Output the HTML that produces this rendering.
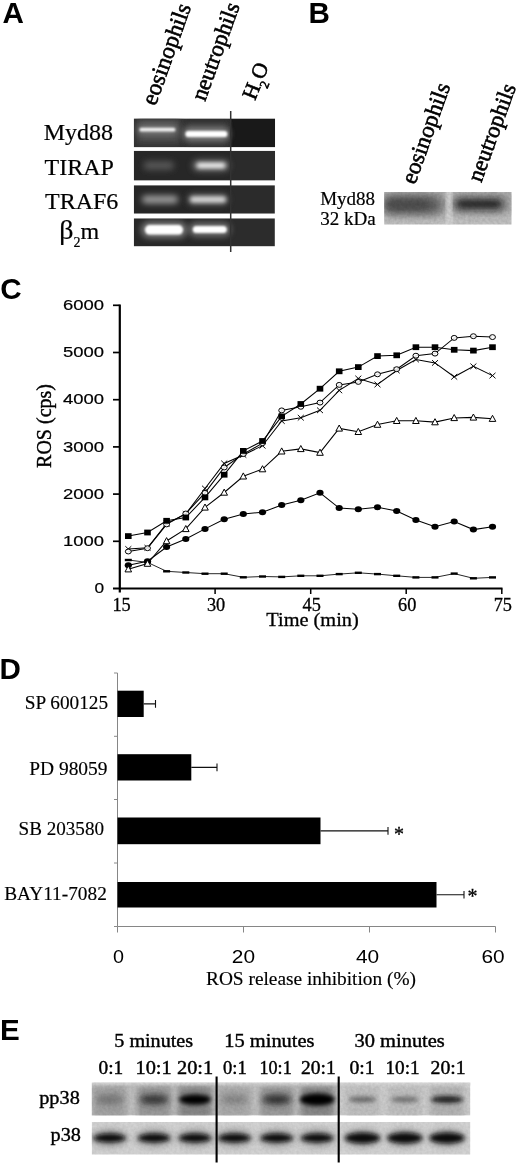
<!DOCTYPE html>
<html><head><meta charset="utf-8"><title>Figure</title>
<style>
html,body{margin:0;padding:0;background:#fff;}
body{width:520px;height:1167px;overflow:hidden;font-family:"Liberation Sans",sans-serif;}
svg{display:block;filter:grayscale(1);}
text{fill:#000;}
</style></head><body>
<svg width="520" height="1167" viewBox="0 0 520 1167">
<defs>
<filter id="b1" x="-30%" y="-100%" width="160%" height="300%"><feGaussianBlur stdDeviation="1.2"/></filter>
<filter id="b2" x="-30%" y="-100%" width="160%" height="300%"><feGaussianBlur stdDeviation="2"/></filter>
<filter id="b3" x="-30%" y="-100%" width="160%" height="300%"><feGaussianBlur stdDeviation="3"/></filter>
<filter id="b5" x="-30%" y="-100%" width="160%" height="300%"><feGaussianBlur stdDeviation="5"/></filter>
<clipPath id="cA1"><rect x="133.8" y="118.4" width="141.3" height="28.9"/></clipPath>
<clipPath id="cA2"><rect x="133.8" y="150.7" width="141.3" height="29.9"/></clipPath>
<clipPath id="cA3"><rect x="133.8" y="185.2" width="141" height="28.5"/></clipPath>
<clipPath id="cA4"><rect x="133.8" y="218.3" width="141" height="28.1"/></clipPath>
<clipPath id="cB"><rect x="384.2" y="192" width="127.3" height="32.5"/></clipPath>
<filter id="noise" x="0" y="0" width="100%" height="100%"><feTurbulence type="fractalNoise" baseFrequency="0.35" numOctaves="2" seed="3" result="n"/><feColorMatrix type="matrix" values="0 0 0 0 0  0 0 0 0 0  0 0 0 0 0  1.6 0 0 0 -0.35"/></filter>
<clipPath id="cE1"><rect x="91.7" y="1082.5" width="378.7" height="33"/></clipPath>
<clipPath id="cE2"><rect x="91.7" y="1122" width="378.7" height="32.5"/></clipPath>
</defs>
<rect width="520" height="1167" fill="#fff"/>

<text x="2.6" y="22.5" font-family="Liberation Sans, sans-serif" font-weight="bold" font-size="29.6">A</text>
<text x="308.6" y="22.5" font-family="Liberation Sans, sans-serif" font-weight="bold" font-size="29.6">B</text>
<text x="0.3" y="298.5" font-family="Liberation Sans, sans-serif" font-weight="bold" font-size="29.6">C</text>
<text x="-0.5" y="679" font-family="Liberation Sans, sans-serif" font-weight="bold" font-size="29.6">D</text>
<text x="0" y="1039.8" font-family="Liberation Sans, sans-serif" font-weight="bold" font-size="29.6">E</text>
<g id="panelA">
<text transform="translate(155.5,106.6) rotate(-70.3)" font-family="Liberation Serif, serif" font-size="23.3" stroke="#000" stroke-width="0.6">eosinophils</text>
<text transform="translate(204.9,102.1) rotate(-70)" font-family="Liberation Serif, serif" font-size="22.8" stroke="#000" stroke-width="0.6">neutrophils</text>
<text transform="translate(255,101) rotate(-68)" font-family="Liberation Serif, serif" font-size="21.5" stroke="#000" stroke-width="0.6">H<tspan font-size="13" dy="7">2</tspan><tspan dy="-7">O</tspan></text>
<text x="43.7" y="139.6" font-family="Liberation Serif, serif" font-size="24" text-anchor="start" stroke="#000" stroke-width="0.2">Myd88</text>
<text x="44.6" y="174.7" font-family="Liberation Serif, serif" font-size="24" text-anchor="start" stroke="#000" stroke-width="0.2">TIRAP</text>
<text x="45.0" y="209.4" font-family="Liberation Serif, serif" font-size="24" text-anchor="start" stroke="#000" stroke-width="0.2">TRAF6</text>
<text x="59.3" y="239.3" font-family="Liberation Serif, serif" font-size="24" stroke="#000" stroke-width="0.2"><tspan font-size="28">β</tspan><tspan font-size="14" dy="8">2</tspan><tspan dy="-8">m</tspan></text>
<g clip-path="url(#cA1)">
<rect x="133.7" y="118.4" width="97" height="29" fill="#2e2e2e"/>
<rect x="230.7" y="118.4" width="44.5" height="29" fill="#191919"/>
<rect x="137" y="118" width="44" height="26" fill="#4a4a4a" filter="url(#b3)"/>
<rect x="186" y="122" width="42" height="24" fill="#3c3c3c" filter="url(#b3)"/>
<rect x="136.9" y="124.4" width="41" height="11" rx="5.5" fill="#808080" opacity="0.8" filter="url(#b3)"/>
<rect x="182.9" y="127.5" width="47" height="13" rx="6.5" fill="#909090" opacity="0.85" filter="url(#b3)"/>
<rect x="139.4" y="127.8" width="36" height="3.8" rx="1.9" fill="#f0f0f0" opacity="1" filter="url(#b1)"/>
<rect x="185.4" y="130.9" width="42" height="6.2" rx="3.1" fill="#ffffff" opacity="1" filter="url(#b1)"/>
</g>
<g clip-path="url(#cA2)">
<rect x="133.7" y="150.7" width="97" height="30" fill="#272727"/>
<rect x="230.7" y="150.7" width="44.5" height="30" fill="#2b2b2b"/>
<rect x="143.8" y="161.4" width="30" height="8" rx="4.0" fill="#5a5a5a" opacity="1" filter="url(#b3)"/>
<rect x="192.0" y="159.6" width="38" height="12" rx="6.0" fill="#707070" opacity="0.85" filter="url(#b3)"/>
<rect x="196.5" y="162.8" width="29" height="5.5" rx="2.8" fill="#f4f4f4" opacity="1" filter="url(#b2)"/>
</g>
<g clip-path="url(#cA3)">
<rect x="133.7" y="185.2" width="97" height="28.5" fill="#262626"/>
<rect x="230.7" y="185.2" width="44.5" height="28.5" fill="#2b2b2b"/>
<rect x="142.0" y="195.8" width="36" height="7.5" rx="3.8" fill="#a4a4a4" opacity="1" filter="url(#b3)"/>
<rect x="187.0" y="193.6" width="42" height="12" rx="6.0" fill="#606060" opacity="0.85" filter="url(#b3)"/>
<rect x="190.0" y="196.6" width="36" height="6" rx="3.0" fill="#dedede" opacity="1" filter="url(#b2)"/>
</g>
<g clip-path="url(#cA4)">
<rect x="133.7" y="218.3" width="97" height="28.1" fill="#282828"/>
<rect x="230.7" y="218.3" width="44.5" height="28.1" fill="#2c2c2c"/>
<rect x="141.0" y="221.8" width="46" height="16" rx="8.0" fill="#909090" opacity="0.85" filter="url(#b3)"/>
<rect x="188.8" y="222.5" width="42" height="14" rx="7.0" fill="#808080" opacity="0.85" filter="url(#b3)"/>
<rect x="145.0" y="225.1" width="38" height="9.5" rx="4.8" fill="#ffffff" opacity="1" filter="url(#b1)"/>
<rect x="192.8" y="225.9" width="34" height="7.2" rx="3.6" fill="#ffffff" opacity="1" filter="url(#b1)"/>
</g>
<line x1="230.7" y1="111" x2="230.7" y2="252" stroke="#333" stroke-width="1.5"/>
</g>
<g id="panelB">
<text transform="translate(415,185.2) rotate(-70.3)" font-family="Liberation Serif, serif" font-size="23.1" stroke="#000" stroke-width="0.6">eosinophils</text>
<text transform="translate(481.2,183.2) rotate(-70)" font-family="Liberation Serif, serif" font-size="22.8" stroke="#000" stroke-width="0.6">neutrophils</text>
<text x="320.2" y="204.8" font-family="Liberation Serif, serif" font-size="19" text-anchor="start" stroke="#000" stroke-width="0.2">Myd88</text>
<text x="320.2" y="225.2" font-family="Liberation Serif, serif" font-size="19" text-anchor="start" stroke="#000" stroke-width="0.2">32 kDa</text>
<g clip-path="url(#cB)">
<rect x="384" y="191.5" width="128" height="33.5" fill="#c4c4c4"/>
<rect x="384" y="191.5" width="62" height="24" fill="#a4a4a4" filter="url(#b3)"/>
<rect x="453" y="191.5" width="59" height="22" fill="#a8a8a8" filter="url(#b3)"/>
<rect x="382.0" y="196.0" width="60" height="18" rx="9.0" fill="#5c5c5c" opacity="0.95" filter="url(#b5)"/>
<rect x="387.0" y="199.5" width="42" height="10" rx="5.0" fill="#484848" opacity="0.85" filter="url(#b3)"/>
<rect x="452.0" y="197.5" width="54" height="14" rx="7.0" fill="#6a6a6a" opacity="0.95" filter="url(#b5)"/>
<rect x="457.0" y="200.2" width="44" height="7.5" rx="3.8" fill="#1e1e1e" opacity="0.95" filter="url(#b3)"/>
<rect x="446.5" y="190" width="5" height="36" fill="#e2e2e2" opacity="0.85" filter="url(#b2)"/>
<rect x="384" y="191.5" width="128" height="33.5" fill="#000" opacity="0.10" filter="url(#noise)"/>
</g>
</g>
<g id="panelC">
<polyline points="128.3,560.0 147.5,562.4 166.6,571.3 185.8,572.5 205.0,573.7 224.2,573.7 243.3,577.3 262.5,576.5 281.7,576.9 300.8,575.8 320.0,575.8 339.2,574.1 358.3,572.8 377.5,574.1 396.7,575.8 415.9,577.4 435.0,577.4 454.2,573.6 473.4,578.3 492.5,577.4" fill="none" stroke="#000" stroke-width="0.85"/>
<polyline points="128.3,565.2 147.5,561.2 166.6,547.0 185.8,539.0 205.0,528.9 224.2,519.2 243.3,513.9 262.5,512.3 281.7,505.0 300.8,500.3 320.0,492.8 339.2,508.1 358.3,509.3 377.5,507.2 396.7,511.0 415.9,519.9 435.0,526.7 454.2,521.6 473.4,529.6 492.5,526.7" fill="none" stroke="#000" stroke-width="1.05"/>
<polyline points="128.3,569.2 147.5,563.6 166.6,541.0 185.8,528.9 205.0,507.4 224.2,492.5 243.3,476.3 262.5,469.1 281.7,451.3 300.8,448.9 320.0,452.6 339.2,428.4 358.3,431.8 377.5,424.6 396.7,420.8 415.9,420.8 435.0,422.1 454.2,417.9 473.4,417.4 492.5,418.7" fill="none" stroke="#000" stroke-width="1.05"/>
<polyline points="128.3,549.0 147.5,547.8 166.6,523.6 185.8,513.9 205.0,488.5 224.2,463.4 243.3,454.9 262.5,445.7 281.7,421.0 300.8,417.7 320.0,410.3 339.2,390.4 358.3,378.5 377.5,384.5 396.7,370.5 415.9,359.5 435.0,362.9 454.2,376.8 473.4,366.3 492.5,375.6" fill="none" stroke="#000" stroke-width="1.05"/>
<polyline points="128.3,551.5 147.5,548.2 166.6,524.4 185.8,513.5 205.0,492.9 224.2,467.5 243.3,454.1 262.5,443.2 281.7,410.4 300.8,406.8 320.0,402.6 339.2,384.9 358.3,381.9 377.5,374.3 396.7,369.2 415.9,355.7 435.0,353.6 454.2,337.9 473.4,336.2 492.5,337.1" fill="none" stroke="#000" stroke-width="1.05"/>
<polyline points="128.3,536.1 147.5,532.5 166.6,520.8 185.8,517.5 205.0,497.4 224.2,474.7 243.3,450.9 262.5,441.0 281.7,416.4 300.8,404.0 320.0,388.7 339.2,371.3 358.3,367.1 377.5,356.1 396.7,355.3 415.9,347.2 435.0,347.2 454.2,349.8 473.4,350.6 492.5,347.2" fill="none" stroke="#000" stroke-width="1.05"/>
<rect x="124.8" y="558.8" width="7" height="2.4" fill="#000"/>
<rect x="144.0" y="561.2" width="7" height="2.4" fill="#000"/>
<rect x="163.1" y="570.1" width="7" height="2.4" fill="#000"/>
<rect x="182.3" y="571.3" width="7" height="2.4" fill="#000"/>
<rect x="201.5" y="572.5" width="7" height="2.4" fill="#000"/>
<rect x="220.7" y="572.5" width="7" height="2.4" fill="#000"/>
<rect x="239.8" y="576.1" width="7" height="2.4" fill="#000"/>
<rect x="259.0" y="575.3" width="7" height="2.4" fill="#000"/>
<rect x="278.2" y="575.7" width="7" height="2.4" fill="#000"/>
<rect x="297.3" y="574.6" width="7" height="2.4" fill="#000"/>
<rect x="316.5" y="574.6" width="7" height="2.4" fill="#000"/>
<rect x="335.7" y="572.9" width="7" height="2.4" fill="#000"/>
<rect x="354.8" y="571.6" width="7" height="2.4" fill="#000"/>
<rect x="374.0" y="572.9" width="7" height="2.4" fill="#000"/>
<rect x="393.2" y="574.6" width="7" height="2.4" fill="#000"/>
<rect x="412.4" y="576.2" width="7" height="2.4" fill="#000"/>
<rect x="431.5" y="576.2" width="7" height="2.4" fill="#000"/>
<rect x="450.7" y="572.4" width="7" height="2.4" fill="#000"/>
<rect x="469.9" y="577.1" width="7" height="2.4" fill="#000"/>
<rect x="489.0" y="576.2" width="7" height="2.4" fill="#000"/>
<ellipse cx="128.3" cy="565.2" rx="3.6" ry="3" fill="#000"/>
<ellipse cx="147.5" cy="561.2" rx="3.6" ry="3" fill="#000"/>
<ellipse cx="166.6" cy="547.0" rx="3.6" ry="3" fill="#000"/>
<ellipse cx="185.8" cy="539.0" rx="3.6" ry="3" fill="#000"/>
<ellipse cx="205.0" cy="528.9" rx="3.6" ry="3" fill="#000"/>
<ellipse cx="224.2" cy="519.2" rx="3.6" ry="3" fill="#000"/>
<ellipse cx="243.3" cy="513.9" rx="3.6" ry="3" fill="#000"/>
<ellipse cx="262.5" cy="512.3" rx="3.6" ry="3" fill="#000"/>
<ellipse cx="281.7" cy="505.0" rx="3.6" ry="3" fill="#000"/>
<ellipse cx="300.8" cy="500.3" rx="3.6" ry="3" fill="#000"/>
<ellipse cx="320.0" cy="492.8" rx="3.6" ry="3" fill="#000"/>
<ellipse cx="339.2" cy="508.1" rx="3.6" ry="3" fill="#000"/>
<ellipse cx="358.3" cy="509.3" rx="3.6" ry="3" fill="#000"/>
<ellipse cx="377.5" cy="507.2" rx="3.6" ry="3" fill="#000"/>
<ellipse cx="396.7" cy="511.0" rx="3.6" ry="3" fill="#000"/>
<ellipse cx="415.9" cy="519.9" rx="3.6" ry="3" fill="#000"/>
<ellipse cx="435.0" cy="526.7" rx="3.6" ry="3" fill="#000"/>
<ellipse cx="454.2" cy="521.6" rx="3.6" ry="3" fill="#000"/>
<ellipse cx="473.4" cy="529.6" rx="3.6" ry="3" fill="#000"/>
<ellipse cx="492.5" cy="526.7" rx="3.6" ry="3" fill="#000"/>
<path d="M125.0 571.9 L131.6 571.9 L128.3 565.8 Z" fill="#fff" stroke="#000" stroke-width="1"/>
<path d="M144.2 566.3 L150.8 566.3 L147.5 560.2 Z" fill="#fff" stroke="#000" stroke-width="1"/>
<path d="M163.3 543.7 L169.9 543.7 L166.6 537.6 Z" fill="#fff" stroke="#000" stroke-width="1"/>
<path d="M182.5 531.6 L189.1 531.6 L185.8 525.5 Z" fill="#fff" stroke="#000" stroke-width="1"/>
<path d="M201.7 510.1 L208.3 510.1 L205.0 504.0 Z" fill="#fff" stroke="#000" stroke-width="1"/>
<path d="M220.9 495.2 L227.5 495.2 L224.2 489.1 Z" fill="#fff" stroke="#000" stroke-width="1"/>
<path d="M240.0 479.0 L246.6 479.0 L243.3 472.9 Z" fill="#fff" stroke="#000" stroke-width="1"/>
<path d="M259.2 471.8 L265.8 471.8 L262.5 465.7 Z" fill="#fff" stroke="#000" stroke-width="1"/>
<path d="M278.4 454.0 L285.0 454.0 L281.7 447.9 Z" fill="#fff" stroke="#000" stroke-width="1"/>
<path d="M297.5 451.6 L304.1 451.6 L300.8 445.5 Z" fill="#fff" stroke="#000" stroke-width="1"/>
<path d="M316.7 455.3 L323.3 455.3 L320.0 449.2 Z" fill="#fff" stroke="#000" stroke-width="1"/>
<path d="M335.9 431.1 L342.5 431.1 L339.2 425.0 Z" fill="#fff" stroke="#000" stroke-width="1"/>
<path d="M355.0 434.5 L361.6 434.5 L358.3 428.4 Z" fill="#fff" stroke="#000" stroke-width="1"/>
<path d="M374.2 427.3 L380.8 427.3 L377.5 421.2 Z" fill="#fff" stroke="#000" stroke-width="1"/>
<path d="M393.4 423.5 L400.0 423.5 L396.7 417.4 Z" fill="#fff" stroke="#000" stroke-width="1"/>
<path d="M412.6 423.5 L419.2 423.5 L415.9 417.4 Z" fill="#fff" stroke="#000" stroke-width="1"/>
<path d="M431.7 424.8 L438.3 424.8 L435.0 418.7 Z" fill="#fff" stroke="#000" stroke-width="1"/>
<path d="M450.9 420.6 L457.5 420.6 L454.2 414.5 Z" fill="#fff" stroke="#000" stroke-width="1"/>
<path d="M470.1 420.1 L476.7 420.1 L473.4 414.0 Z" fill="#fff" stroke="#000" stroke-width="1"/>
<path d="M489.2 421.4 L495.8 421.4 L492.5 415.3 Z" fill="#fff" stroke="#000" stroke-width="1"/>
<path d="M125.3 546.2 L131.3 551.8 M125.3 551.8 L131.3 546.2" stroke="#000" stroke-width="0.95" fill="none"/>
<path d="M144.5 545.0 L150.5 550.6 M144.5 550.6 L150.5 545.0" stroke="#000" stroke-width="0.95" fill="none"/>
<path d="M163.6 520.8 L169.6 526.4 M163.6 526.4 L169.6 520.8" stroke="#000" stroke-width="0.95" fill="none"/>
<path d="M182.8 511.1 L188.8 516.7 M182.8 516.7 L188.8 511.1" stroke="#000" stroke-width="0.95" fill="none"/>
<path d="M202.0 485.7 L208.0 491.3 M202.0 491.3 L208.0 485.7" stroke="#000" stroke-width="0.95" fill="none"/>
<path d="M221.2 460.6 L227.2 466.2 M221.2 466.2 L227.2 460.6" stroke="#000" stroke-width="0.95" fill="none"/>
<path d="M240.3 452.1 L246.3 457.7 M240.3 457.7 L246.3 452.1" stroke="#000" stroke-width="0.95" fill="none"/>
<path d="M259.5 442.9 L265.5 448.5 M259.5 448.5 L265.5 442.9" stroke="#000" stroke-width="0.95" fill="none"/>
<path d="M278.7 418.2 L284.7 423.8 M278.7 423.8 L284.7 418.2" stroke="#000" stroke-width="0.95" fill="none"/>
<path d="M297.8 414.9 L303.8 420.5 M297.8 420.5 L303.8 414.9" stroke="#000" stroke-width="0.95" fill="none"/>
<path d="M317.0 407.5 L323.0 413.1 M317.0 413.1 L323.0 407.5" stroke="#000" stroke-width="0.95" fill="none"/>
<path d="M336.2 387.6 L342.2 393.2 M336.2 393.2 L342.2 387.6" stroke="#000" stroke-width="0.95" fill="none"/>
<path d="M355.3 375.7 L361.3 381.3 M355.3 381.3 L361.3 375.7" stroke="#000" stroke-width="0.95" fill="none"/>
<path d="M374.5 381.7 L380.5 387.3 M374.5 387.3 L380.5 381.7" stroke="#000" stroke-width="0.95" fill="none"/>
<path d="M393.7 367.7 L399.7 373.3 M393.7 373.3 L399.7 367.7" stroke="#000" stroke-width="0.95" fill="none"/>
<path d="M412.9 356.7 L418.9 362.3 M412.9 362.3 L418.9 356.7" stroke="#000" stroke-width="0.95" fill="none"/>
<path d="M432.0 360.1 L438.0 365.7 M432.0 365.7 L438.0 360.1" stroke="#000" stroke-width="0.95" fill="none"/>
<path d="M451.2 374.0 L457.2 379.6 M451.2 379.6 L457.2 374.0" stroke="#000" stroke-width="0.95" fill="none"/>
<path d="M470.4 363.5 L476.4 369.1 M470.4 369.1 L476.4 363.5" stroke="#000" stroke-width="0.95" fill="none"/>
<path d="M489.5 372.8 L495.5 378.4 M489.5 378.4 L495.5 372.8" stroke="#000" stroke-width="0.95" fill="none"/>
<ellipse cx="128.3" cy="551.5" rx="2.95" ry="2.45" fill="#fff" fill-opacity="0.85" stroke="#000" stroke-width="1"/>
<ellipse cx="147.5" cy="548.2" rx="2.95" ry="2.45" fill="#fff" fill-opacity="0.85" stroke="#000" stroke-width="1"/>
<ellipse cx="166.6" cy="524.4" rx="2.95" ry="2.45" fill="#fff" fill-opacity="0.85" stroke="#000" stroke-width="1"/>
<ellipse cx="185.8" cy="513.5" rx="2.95" ry="2.45" fill="#fff" fill-opacity="0.85" stroke="#000" stroke-width="1"/>
<ellipse cx="205.0" cy="492.9" rx="2.95" ry="2.45" fill="#fff" fill-opacity="0.85" stroke="#000" stroke-width="1"/>
<ellipse cx="224.2" cy="467.5" rx="2.95" ry="2.45" fill="#fff" fill-opacity="0.85" stroke="#000" stroke-width="1"/>
<ellipse cx="243.3" cy="454.1" rx="2.95" ry="2.45" fill="#fff" fill-opacity="0.85" stroke="#000" stroke-width="1"/>
<ellipse cx="262.5" cy="443.2" rx="2.95" ry="2.45" fill="#fff" fill-opacity="0.85" stroke="#000" stroke-width="1"/>
<ellipse cx="281.7" cy="410.4" rx="2.95" ry="2.45" fill="#fff" fill-opacity="0.85" stroke="#000" stroke-width="1"/>
<ellipse cx="300.8" cy="406.8" rx="2.95" ry="2.45" fill="#fff" fill-opacity="0.85" stroke="#000" stroke-width="1"/>
<ellipse cx="320.0" cy="402.6" rx="2.95" ry="2.45" fill="#fff" fill-opacity="0.85" stroke="#000" stroke-width="1"/>
<ellipse cx="339.2" cy="384.9" rx="2.95" ry="2.45" fill="#fff" fill-opacity="0.85" stroke="#000" stroke-width="1"/>
<ellipse cx="358.3" cy="381.9" rx="2.95" ry="2.45" fill="#fff" fill-opacity="0.85" stroke="#000" stroke-width="1"/>
<ellipse cx="377.5" cy="374.3" rx="2.95" ry="2.45" fill="#fff" fill-opacity="0.85" stroke="#000" stroke-width="1"/>
<ellipse cx="396.7" cy="369.2" rx="2.95" ry="2.45" fill="#fff" fill-opacity="0.85" stroke="#000" stroke-width="1"/>
<ellipse cx="415.9" cy="355.7" rx="2.95" ry="2.45" fill="#fff" fill-opacity="0.85" stroke="#000" stroke-width="1"/>
<ellipse cx="435.0" cy="353.6" rx="2.95" ry="2.45" fill="#fff" fill-opacity="0.85" stroke="#000" stroke-width="1"/>
<ellipse cx="454.2" cy="337.9" rx="2.95" ry="2.45" fill="#fff" fill-opacity="0.85" stroke="#000" stroke-width="1"/>
<ellipse cx="473.4" cy="336.2" rx="2.95" ry="2.45" fill="#fff" fill-opacity="0.85" stroke="#000" stroke-width="1"/>
<ellipse cx="492.5" cy="337.1" rx="2.95" ry="2.45" fill="#fff" fill-opacity="0.85" stroke="#000" stroke-width="1"/>
<rect x="125.0" y="533.2" width="6.6" height="5.8" fill="#000"/>
<rect x="144.2" y="529.6" width="6.6" height="5.8" fill="#000"/>
<rect x="163.3" y="517.9" width="6.6" height="5.8" fill="#000"/>
<rect x="182.5" y="514.6" width="6.6" height="5.8" fill="#000"/>
<rect x="201.7" y="494.5" width="6.6" height="5.8" fill="#000"/>
<rect x="220.9" y="471.8" width="6.6" height="5.8" fill="#000"/>
<rect x="240.0" y="448.0" width="6.6" height="5.8" fill="#000"/>
<rect x="259.2" y="438.1" width="6.6" height="5.8" fill="#000"/>
<rect x="278.4" y="413.5" width="6.6" height="5.8" fill="#000"/>
<rect x="297.5" y="401.1" width="6.6" height="5.8" fill="#000"/>
<rect x="316.7" y="385.8" width="6.6" height="5.8" fill="#000"/>
<rect x="335.9" y="368.4" width="6.6" height="5.8" fill="#000"/>
<rect x="355.0" y="364.2" width="6.6" height="5.8" fill="#000"/>
<rect x="374.2" y="353.2" width="6.6" height="5.8" fill="#000"/>
<rect x="393.4" y="352.4" width="6.6" height="5.8" fill="#000"/>
<rect x="412.6" y="344.3" width="6.6" height="5.8" fill="#000"/>
<rect x="431.7" y="344.3" width="6.6" height="5.8" fill="#000"/>
<rect x="450.9" y="346.9" width="6.6" height="5.8" fill="#000"/>
<rect x="470.1" y="347.7" width="6.6" height="5.8" fill="#000"/>
<rect x="489.2" y="344.3" width="6.6" height="5.8" fill="#000"/>
<path d="M119.8 304.4 L119.8 592.5" stroke="#000" stroke-width="2.2" fill="none"/>
<path d="M113 588.5 L502.5 588.5" stroke="#000" stroke-width="2.1" fill="none"/>
<text x="94.4" y="593.2" font-family="Liberation Sans, sans-serif" font-size="14.8" textLength="9.6" lengthAdjust="spacingAndGlyphs" stroke="#000" stroke-width="0.2">0</text>
<line x1="113" y1="541.3" x2="119.6" y2="541.3" stroke="#000" stroke-width="1.7"/>
<text x="63.0" y="546.0" font-family="Liberation Sans, sans-serif" font-size="14.8" textLength="41" lengthAdjust="spacingAndGlyphs" stroke="#000" stroke-width="0.2">1000</text>
<line x1="113" y1="494.1" x2="119.6" y2="494.1" stroke="#000" stroke-width="1.7"/>
<text x="63.0" y="498.8" font-family="Liberation Sans, sans-serif" font-size="14.8" textLength="41" lengthAdjust="spacingAndGlyphs" stroke="#000" stroke-width="0.2">2000</text>
<line x1="113" y1="446.9" x2="119.6" y2="446.9" stroke="#000" stroke-width="1.7"/>
<text x="63.0" y="451.6" font-family="Liberation Sans, sans-serif" font-size="14.8" textLength="41" lengthAdjust="spacingAndGlyphs" stroke="#000" stroke-width="0.2">3000</text>
<line x1="113" y1="399.7" x2="119.6" y2="399.7" stroke="#000" stroke-width="1.7"/>
<text x="63.0" y="404.4" font-family="Liberation Sans, sans-serif" font-size="14.8" textLength="41" lengthAdjust="spacingAndGlyphs" stroke="#000" stroke-width="0.2">4000</text>
<line x1="113" y1="352.5" x2="119.6" y2="352.5" stroke="#000" stroke-width="1.7"/>
<text x="63.0" y="357.2" font-family="Liberation Sans, sans-serif" font-size="14.8" textLength="41" lengthAdjust="spacingAndGlyphs" stroke="#000" stroke-width="0.2">5000</text>
<line x1="113" y1="305.3" x2="119.6" y2="305.3" stroke="#000" stroke-width="1.7"/>
<text x="63.0" y="310.0" font-family="Liberation Sans, sans-serif" font-size="14.8" textLength="41" lengthAdjust="spacingAndGlyphs" stroke="#000" stroke-width="0.2">6000</text>
<text x="121.6" y="610.8" font-family="Liberation Serif, serif" font-size="18" text-anchor="middle" textLength="18.3" lengthAdjust="spacingAndGlyphs" stroke="#000" stroke-width="0.3">15</text>
<line x1="215.1" y1="588.4" x2="215.1" y2="594" stroke="#000" stroke-width="1.5"/>
<text x="216.1" y="610.8" font-family="Liberation Serif, serif" font-size="18" text-anchor="middle" textLength="18.3" lengthAdjust="spacingAndGlyphs" stroke="#000" stroke-width="0.3">30</text>
<line x1="310.7" y1="588.4" x2="310.7" y2="594" stroke="#000" stroke-width="1.5"/>
<text x="311.7" y="610.8" font-family="Liberation Serif, serif" font-size="18" text-anchor="middle" textLength="18.3" lengthAdjust="spacingAndGlyphs" stroke="#000" stroke-width="0.3">45</text>
<line x1="406.2" y1="588.4" x2="406.2" y2="594" stroke="#000" stroke-width="1.5"/>
<text x="407.2" y="610.8" font-family="Liberation Serif, serif" font-size="18" text-anchor="middle" textLength="18.3" lengthAdjust="spacingAndGlyphs" stroke="#000" stroke-width="0.3">60</text>
<line x1="501.8" y1="588.4" x2="501.8" y2="594" stroke="#000" stroke-width="1.5"/>
<text x="502.8" y="610.8" font-family="Liberation Serif, serif" font-size="18" text-anchor="middle" textLength="18.3" lengthAdjust="spacingAndGlyphs" stroke="#000" stroke-width="0.3">75</text>
<text x="266.3" y="626.3" font-family="Liberation Serif, serif" font-size="19.3" textLength="92.5" lengthAdjust="spacingAndGlyphs" stroke="#000" stroke-width="0.3">Time (min)</text>
<text transform="translate(51.2,426) rotate(-90)" font-family="Liberation Serif, serif" font-size="20" text-anchor="middle" stroke="#000" stroke-width="0.4">ROS (cps)</text>
</g>
<g id="panelD">
<path d="M117.5 673 L117.5 926.5 L495.5 926.5" stroke="#868686" stroke-width="1" fill="none"/>
<line x1="114" y1="673" x2="117.5" y2="673" stroke="#8a8a8a" stroke-width="1"/>
<line x1="114" y1="736.3" x2="117.5" y2="736.3" stroke="#8a8a8a" stroke-width="1"/>
<line x1="114" y1="799.5" x2="117.5" y2="799.5" stroke="#8a8a8a" stroke-width="1"/>
<line x1="114" y1="863" x2="117.5" y2="863" stroke="#8a8a8a" stroke-width="1"/>
<line x1="114" y1="926.5" x2="117.5" y2="926.5" stroke="#8a8a8a" stroke-width="1"/>
<line x1="117.5" y1="926.5" x2="117.5" y2="932.5" stroke="#868686" stroke-width="1"/>
<text x="113.0" y="963" font-family="Liberation Sans, sans-serif" font-size="19" textLength="11" lengthAdjust="spacingAndGlyphs">0</text>
<line x1="243.5" y1="926.5" x2="243.5" y2="932.5" stroke="#868686" stroke-width="1"/>
<text x="231.8" y="963" font-family="Liberation Sans, sans-serif" font-size="19" textLength="23.2" lengthAdjust="spacingAndGlyphs">20</text>
<line x1="369.5" y1="926.5" x2="369.5" y2="932.5" stroke="#868686" stroke-width="1"/>
<text x="356.0" y="963" font-family="Liberation Sans, sans-serif" font-size="19" textLength="23.2" lengthAdjust="spacingAndGlyphs">40</text>
<line x1="495.5" y1="926.5" x2="495.5" y2="932.5" stroke="#868686" stroke-width="1"/>
<text x="481.5" y="963" font-family="Liberation Sans, sans-serif" font-size="19" textLength="23.2" lengthAdjust="spacingAndGlyphs">60</text>
<rect x="117.5" y="690.7" width="26.19999999999999" height="26.299999999999955" fill="#000"/>
<path d="M143.7 703.85 L155.5 703.85 M155.5 700.0500000000001 L155.5 707.65" stroke="#111" stroke-width="1.1" fill="none"/>
<text x="24.8" y="709.3" font-family="Liberation Serif, serif" font-size="18.5" textLength="83.3" lengthAdjust="spacingAndGlyphs" stroke="#000" stroke-width="0.15">SP 600125</text>
<rect x="117.5" y="754.2" width="73.80000000000001" height="26.299999999999955" fill="#000"/>
<path d="M191.3 767.35 L217 767.35 M217 763.5500000000001 L217 771.15" stroke="#111" stroke-width="1.1" fill="none"/>
<text x="29.3" y="775" font-family="Liberation Serif, serif" font-size="18.5" textLength="78.2" lengthAdjust="spacingAndGlyphs" stroke="#000" stroke-width="0.15">PD 98059</text>
<rect x="117.5" y="817.5" width="203.0" height="26.700000000000045" fill="#000"/>
<path d="M320.5 830.85 L388 830.85 M388 827.0500000000001 L388 834.65" stroke="#111" stroke-width="1.1" fill="none"/>
<text x="18.6" y="835.2" font-family="Liberation Serif, serif" font-size="18.5" textLength="85.4" lengthAdjust="spacingAndGlyphs" stroke="#000" stroke-width="0.15">SB 203580</text>
<rect x="117.5" y="882" width="319.0" height="25.5" fill="#000"/>
<path d="M436.5 894.75 L464 894.75 M464 890.95 L464 898.55" stroke="#111" stroke-width="1.1" fill="none"/>
<text x="4.2" y="900" font-family="Liberation Serif, serif" font-size="18.5" textLength="102.6" lengthAdjust="spacingAndGlyphs" stroke="#000" stroke-width="0.15">BAY11-7082</text>
<text x="399" y="841" font-family="Liberation Serif, serif" font-size="20" text-anchor="middle" stroke="#000" stroke-width="0.3">*</text>
<text x="472.5" y="903" font-family="Liberation Serif, serif" font-size="20" text-anchor="middle" stroke="#000" stroke-width="0.3">*</text>
<text x="206" y="985" font-family="Liberation Serif, serif" font-size="18.7" textLength="210" lengthAdjust="spacingAndGlyphs" stroke="#000" stroke-width="0.15">ROS release inhibition (%)</text>
</g>
<g id="panelE">
<text x="114.3" y="1046.5" font-family="Liberation Serif, serif" font-size="18.6" text-anchor="start" textLength="78.8" lengthAdjust="spacingAndGlyphs" stroke="#000" stroke-width="0.4">5 minutes</text>
<text x="224.3" y="1046.5" font-family="Liberation Serif, serif" font-size="18.6" text-anchor="start" textLength="90.2" lengthAdjust="spacingAndGlyphs" stroke="#000" stroke-width="0.4">15 minutes</text>
<text x="354.6" y="1046.5" font-family="Liberation Serif, serif" font-size="18.6" text-anchor="start" textLength="90.2" lengthAdjust="spacingAndGlyphs" stroke="#000" stroke-width="0.4">30 minutes</text>
<text x="98.5" y="1074" font-family="Liberation Serif, serif" font-size="18.8" text-anchor="start" textLength="24.7" lengthAdjust="spacingAndGlyphs" stroke="#000" stroke-width="0.4">0:1</text>
<text x="135.5" y="1074" font-family="Liberation Serif, serif" font-size="18.8" text-anchor="start" textLength="36.2" lengthAdjust="spacingAndGlyphs" stroke="#000" stroke-width="0.4">10:1</text>
<text x="177.0" y="1074" font-family="Liberation Serif, serif" font-size="18.8" text-anchor="start" textLength="36.2" lengthAdjust="spacingAndGlyphs" stroke="#000" stroke-width="0.4">20:1</text>
<text x="223.0" y="1074" font-family="Liberation Serif, serif" font-size="18.8" text-anchor="start" textLength="23.7" lengthAdjust="spacingAndGlyphs" stroke="#000" stroke-width="0.4">0:1</text>
<text x="259.5" y="1074" font-family="Liberation Serif, serif" font-size="18.8" text-anchor="start" textLength="32.2" lengthAdjust="spacingAndGlyphs" stroke="#000" stroke-width="0.4">10:1</text>
<text x="301.0" y="1074" font-family="Liberation Serif, serif" font-size="18.8" text-anchor="start" textLength="34.7" lengthAdjust="spacingAndGlyphs" stroke="#000" stroke-width="0.4">20:1</text>
<text x="349.5" y="1074" font-family="Liberation Serif, serif" font-size="18.8" text-anchor="start" textLength="25.2" lengthAdjust="spacingAndGlyphs" stroke="#000" stroke-width="0.4">0:1</text>
<text x="385.5" y="1074" font-family="Liberation Serif, serif" font-size="18.8" text-anchor="start" textLength="34.2" lengthAdjust="spacingAndGlyphs" stroke="#000" stroke-width="0.4">10:1</text>
<text x="430.5" y="1074" font-family="Liberation Serif, serif" font-size="18.8" text-anchor="start" textLength="35.2" lengthAdjust="spacingAndGlyphs" stroke="#000" stroke-width="0.4">20:1</text>
<text x="39.2" y="1103.8" font-family="Liberation Serif, serif" font-size="18.6" text-anchor="start" textLength="40.6" lengthAdjust="spacingAndGlyphs" stroke="#000" stroke-width="0.35">pp38</text>
<text x="50.6" y="1140.9" font-family="Liberation Serif, serif" font-size="18.6" text-anchor="start" textLength="30.4" lengthAdjust="spacingAndGlyphs" stroke="#000" stroke-width="0.35">p38</text>
<g clip-path="url(#cE1)">
<rect x="91.7" y="1082.5" width="125" height="33" fill="#c4c4c4"/>
<rect x="216.5" y="1082.5" width="122.5" height="33" fill="#c6c6c6"/>
<rect x="339" y="1082.5" width="131.4" height="33" fill="#d0d0d0"/>
<rect x="92.6" y="1086" width="34" height="32" fill="#a2a2a2" filter="url(#b3)"/>
<rect x="137" y="1086" width="34" height="32" fill="#989898" filter="url(#b3)"/>
<rect x="178" y="1086" width="34" height="32" fill="#868686" filter="url(#b3)"/>
<rect x="217.4" y="1086" width="34" height="32" fill="#aaaaaa" filter="url(#b3)"/>
<rect x="259.7" y="1086" width="34" height="32" fill="#9a9a9a" filter="url(#b3)"/>
<rect x="300.2" y="1086" width="34" height="32" fill="#868686" filter="url(#b3)"/>
<rect x="345.5" y="1086" width="34" height="32" fill="#c0c0c0" filter="url(#b3)"/>
<rect x="387.8" y="1086" width="34" height="32" fill="#c0c0c0" filter="url(#b3)"/>
<rect x="430" y="1086" width="34" height="32" fill="#b2b2b2" filter="url(#b3)"/>
<rect x="91.7" y="1080" width="380" height="5" fill="#dcdcdc" opacity="0.8" filter="url(#b1)"/>
<ellipse cx="109.6" cy="1099.5" rx="13.5" ry="4.6" fill="#6a6a6a" opacity="0.8" filter="url(#b3)"/>
<ellipse cx="154" cy="1099.5" rx="14.5" ry="4.8" fill="#2c2c2c" opacity="0.92" filter="url(#b3)"/>
<ellipse cx="195" cy="1099.5" rx="16" ry="5.2" fill="#030303" opacity="1" filter="url(#b2)"/>
<ellipse cx="234.4" cy="1099.5" rx="13.5" ry="4.6" fill="#787878" opacity="0.75" filter="url(#b3)"/>
<ellipse cx="276.7" cy="1099.5" rx="14.5" ry="5" fill="#282828" opacity="0.92" filter="url(#b3)"/>
<ellipse cx="317.2" cy="1099.5" rx="17.5" ry="6.2" fill="#000" opacity="1" filter="url(#b2)"/>
<ellipse cx="362.5" cy="1099.5" rx="14" ry="2.8" fill="#555" opacity="0.85" filter="url(#b2)"/>
<ellipse cx="404.8" cy="1099.5" rx="14" ry="2.8" fill="#606060" opacity="0.85" filter="url(#b2)"/>
<ellipse cx="447" cy="1099.5" rx="16" ry="3.6" fill="#181818" opacity="0.95" filter="url(#b2)"/>
<rect x="91.7" y="1082.5" width="380" height="33" fill="#000" opacity="0.08" filter="url(#noise)"/>
</g>
<g clip-path="url(#cE2)">
<rect x="91.7" y="1122" width="378.7" height="33" fill="#d4d4d4"/>
<ellipse cx="109.6" cy="1138" rx="19" ry="9.5" fill="#9a9a9a" opacity="0.8" filter="url(#b3)"/>
<ellipse cx="154" cy="1138" rx="19" ry="9.5" fill="#9a9a9a" opacity="0.8" filter="url(#b3)"/>
<ellipse cx="195" cy="1138" rx="19" ry="9.5" fill="#9a9a9a" opacity="0.8" filter="url(#b3)"/>
<ellipse cx="234.4" cy="1138" rx="19" ry="9.5" fill="#9a9a9a" opacity="0.8" filter="url(#b3)"/>
<ellipse cx="276.7" cy="1138" rx="19" ry="9.5" fill="#9a9a9a" opacity="0.8" filter="url(#b3)"/>
<ellipse cx="317.2" cy="1138" rx="19" ry="9.5" fill="#9a9a9a" opacity="0.8" filter="url(#b3)"/>
<ellipse cx="362.5" cy="1138" rx="19" ry="9.5" fill="#9a9a9a" opacity="0.8" filter="url(#b3)"/>
<ellipse cx="404.8" cy="1138" rx="19" ry="9.5" fill="#9a9a9a" opacity="0.8" filter="url(#b3)"/>
<ellipse cx="447" cy="1138" rx="19" ry="9.5" fill="#9a9a9a" opacity="0.8" filter="url(#b3)"/>
<ellipse cx="109.6" cy="1138" rx="16" ry="4.4" fill="#0c0c0c" opacity="1" filter="url(#b2)"/>
<ellipse cx="154" cy="1138" rx="16" ry="4.4" fill="#0c0c0c" opacity="1" filter="url(#b2)"/>
<ellipse cx="195" cy="1138" rx="16" ry="4.4" fill="#0c0c0c" opacity="1" filter="url(#b2)"/>
<ellipse cx="234.4" cy="1138" rx="16" ry="4.4" fill="#0c0c0c" opacity="1" filter="url(#b2)"/>
<ellipse cx="276.7" cy="1138" rx="16" ry="4.4" fill="#0c0c0c" opacity="1" filter="url(#b2)"/>
<ellipse cx="317.2" cy="1138" rx="16" ry="4.4" fill="#0c0c0c" opacity="1" filter="url(#b2)"/>
<ellipse cx="362.5" cy="1138" rx="17.5" ry="5.4" fill="#0c0c0c" opacity="1" filter="url(#b2)"/>
<ellipse cx="404.8" cy="1138" rx="17.5" ry="5.4" fill="#0c0c0c" opacity="1" filter="url(#b2)"/>
<ellipse cx="447" cy="1138" rx="17.5" ry="5.4" fill="#0c0c0c" opacity="1" filter="url(#b2)"/>
<rect x="91.7" y="1122" width="380" height="33" fill="#000" opacity="0.06" filter="url(#noise)"/>
</g>
<line x1="216.6" y1="1076.5" x2="216.6" y2="1162.5" stroke="#000" stroke-width="2.1"/>
<line x1="338.7" y1="1076.5" x2="338.7" y2="1162.5" stroke="#000" stroke-width="2.1"/>
</g>
</svg>
</body></html>
